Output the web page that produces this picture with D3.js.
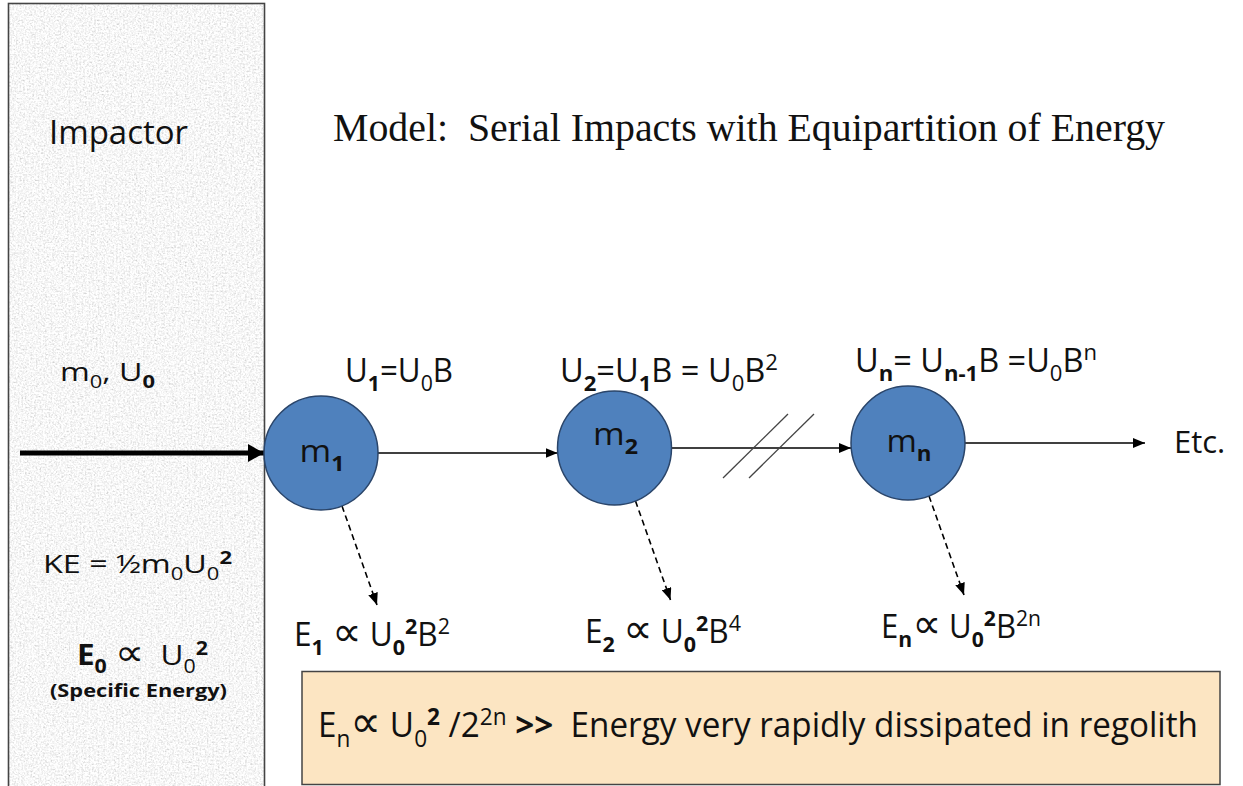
<!DOCTYPE html>
<html>
<head>
<meta charset="utf-8">
<script src="https://cdn.jsdelivr.net/npm/d3@7"></script>
<style>
  body { margin: 0; background: #fff; }
  text { font-family: "Open Sans", sans-serif; fill: #111; white-space: pre; }
</style>
</head>
<body>
<div id="diagram"></div>
<script>
// Diagram area
var svgWidth = 1243;
var svgHeight = 786;

// Serial impacts: one entry per sphere
var impactIndex = [0, 1, 2];
var massLabels = [
  [["m", ""], ["1", "bsub"]],
  [["m", ""], ["2", "bsub"]],
  [["m", ""], ["n", "bsub"]]
];
var velocityLabels = [
  [["U", ""], ["1", "bsub"], ["=U", ""], ["0", "sub"], ["B", ""]],
  [["U", ""], ["2", "bsub"], ["=U", ""], ["1", "bsub"], ["B = U", ""], ["0", "sub"], ["B", ""], ["2", "sup"]],
  [["U", ""], ["n", "bsub"], ["= U", ""], ["n-1", "bsub"], ["B =U", ""], ["0", "sub"], ["B", ""], ["n", "sup"]]
];
var energyLabels = [
  [["E", ""], ["1", "bsub"], [" ", ""], ["\u221D", "prop"], [" U", ""], ["0", "bsub"], ["2", "bsup"], ["B", ""], ["2", "sup"]],
  [["E", ""], ["2", "bsub"], [" ", ""], ["\u221D", "prop"], [" U", ""], ["0", "bsub"], ["2", "bsup"], ["B", ""], ["4", "sup"]],
  [["E", ""], ["n", "bsub"], ["\u221D", "prop"], [" U", ""], ["0", "bsub"], ["2", "bsup"], ["B", ""], ["2n", "sup"]]
];

// Impactor texts
var impactorTitle = [["Impactor", ""]];
var impactorState = [["m", ""], ["0", "sub"], [", U", ""], ["0", "bsub"]];
var impactorKE = [["KE = \u00BDm", ""], ["0", "sub"], ["U", ""], ["0", "sub"], ["2", "bsup"]];
var impactorE0 = [["E", "b"], ["0", "bsub"], [" ", ""], ["\u221D", "prop"], ["  U", ""], ["0", "sub"], ["2", "bsup"]];
var impactorNote = [["(Specific Energy)", "b"]];

var titleText = "Model:  Serial Impacts with Equipartition of Energy";
var etcText = "Etc.";
var summaryText = [["E", ""], ["n", "sub"], ["\u221D", "prop"], [" U", ""], ["0", "sub"], ["2", "bsup"], [" /2", ""], ["2n", "sup"], [" >>", "b"], ["  Energy very rapidly dissipated in regolith", ""]];

// Layout
var radius = 57;
var x = d3.scaleLinear().domain([0, 2]).range([321, 908]);
var y = d3.scaleLinear().domain([0, 2]).range([453, 443]);
var velLayout = [{x: 345, y: 382, w: 108}, {x: 560, y: 382, w: 218}, {x: 855, y: 372, w: 242}];
var massLayout = [{dy: 9, w: 45}, {dy: -3, w: 45}, {dy: 9, w: 45}];
var energyLayout = [{x: 294, y: 646, w: 156}, {x: 585, y: 643, w: 156}, {x: 881, y: 638, w: 160}];

var svg = d3.select("#diagram")
  .append("svg")
  .attr("width", svgWidth)
  .attr("height", svgHeight);

var defs = svg.append("defs");

// speckled stone texture for the impactor
var filt = defs.append("filter").attr("id", "speckle")
  .attr("x", 0).attr("y", 0).attr("width", 1).attr("height", 1);
filt.append("feTurbulence").attr("type", "fractalNoise")
  .attr("baseFrequency", 0.55).attr("numOctaves", 3).attr("seed", 3).attr("result", "noise");
filt.append("feColorMatrix").attr("in", "noise").attr("type", "matrix")
  .attr("values", "0.33 0.33 0.33 0 0  0.33 0.33 0.33 0 0  0.33 0.33 0.33 0 0  0 0 0 0 1")
  .attr("result", "gray");
var ct = filt.append("feComponentTransfer").attr("in", "gray");
["feFuncR", "feFuncG", "feFuncB"].forEach(function(f) {
  ct.append(f).attr("type", "linear").attr("slope", 1.15).attr("intercept", 0.36);
});

function marker(id, w, h, color) {
  defs.append("marker").attr("id", id)
    .attr("markerUnits", "userSpaceOnUse")
    .attr("viewBox", `0 0 ${w} ${h}`)
    .attr("markerWidth", w).attr("markerHeight", h)
    .attr("refX", w).attr("refY", h / 2)
    .attr("orient", "auto")
    .append("path")
    .attr("d", `M0,0L${w},${h / 2}L0,${h}Z`)
    .attr("fill", color);
}
marker("bigHead", 16, 18, "#000");
marker("head", 12, 10, "#000");

// rich text with sub/superscripts
function rich(sel, px, py, size, segs, width, anchor) {
  var t = sel.append("text")
    .attr("x", px).attr("y", py)
    .attr("font-size", size)
    .attr("text-anchor", anchor || "start");
  var off = 0;
  segs.forEach(function(s) {
    var mode = s[1], target = 0, fs = size;
    if (mode.indexOf("sub") >= 0) { target = size * 0.28; fs = size * 0.68; }
    if (mode.indexOf("sup") >= 0) { target = -size * 0.36; fs = size * 0.68; }
    if (mode === "prop") fs = size * 1.3;
    var ts = t.append("tspan")
      .attr("dy", target - off)
      .attr("font-size", fs)
      .attr("font-weight", mode.charAt(0) === "b" ? 700 : 400)
      .text(s[0]);
    if (mode === "prop") ts.style("font-family", "'DejaVu Sans', sans-serif");
    off = target;
  });
  if (width) t.attr("textLength", width).attr("lengthAdjust", "spacingAndGlyphs");
  return t;
}

// Impactor block
svg.append("rect")
  .attr("x", 8.5).attr("y", 3.5).attr("width", 256).attr("height", 800)
  .attr("fill", "#ececec").attr("filter", "url(#speckle)");
svg.append("rect")
  .attr("x", 8.5).attr("y", 3.5).attr("width", 256).attr("height", 800)
  .attr("fill", "none").attr("stroke", "#444").attr("stroke-width", 1.6);

rich(svg, 49, 144, 33, impactorTitle, 139);
rich(svg, 60, 381, 26, impactorState, 95);
rich(svg, 43, 573, 26, impactorKE, 189);
rich(svg, 77, 665, 28, impactorE0, 131);
rich(svg, 50, 697, 18, impactorNote, 177);

// impact arrow
svg.append("line")
  .attr("x1", 20).attr("y1", y(0)).attr("x2", x(0) - radius).attr("y2", y(0))
  .attr("stroke", "#000").attr("stroke-width", 5)
  .attr("marker-end", "url(#bigHead)");

// title
svg.append("text")
  .attr("x", 333).attr("y", 141)
  .attr("font-size", 40)
  .style("font-family", "'Liberation Serif', serif")
  .attr("textLength", 832).attr("lengthAdjust", "spacingAndGlyphs")
  .text(titleText);

// horizontal arrows between spheres
var links = svg.append("g");
impactIndex.forEach(function(i) {
  var x2 = i < 2 ? x(i + 1) - radius : 1145;
  links.append("line")
    .attr("x1", x(i) + radius).attr("y1", y(i))
    .attr("x2", x2).attr("y2", y(i))
    .attr("stroke", "#000").attr("stroke-width", 1.6)
    .attr("marker-end", "url(#head)");
});

// break marks on second link
[0, 26].forEach(function(d) {
  svg.append("line")
    .attr("x1", 723 + d).attr("y1", 478).attr("x2", 788 + d).attr("y2", 414)
    .attr("stroke", "#444").attr("stroke-width", 1.3);
});

// dashed energy-loss arrows
impactIndex.forEach(function(i) {
  svg.append("line")
    .attr("x1", x(i) + 21).attr("y1", y(i) + 53)
    .attr("x2", x(i) + 56).attr("y2", y(i) + 152)
    .attr("stroke", "#000").attr("stroke-width", 1.6)
    .attr("stroke-dasharray", "6,4")
    .attr("marker-end", "url(#head)");
});

// spheres
svg.selectAll("circle.mass")
  .data(impactIndex)
  .enter()
  .append("circle")
  .attr("class", "mass")
  .attr("cx", d => x(d))
  .attr("cy", d => y(d))
  .attr("r", radius)
  .attr("fill", "#4f81bd")
  .attr("stroke", "#2a456a")
  .attr("stroke-width", 1.5);

impactIndex.forEach(function(i) {
  rich(svg, x(i) + 1, y(i) + massLayout[i].dy, 31, massLabels[i], massLayout[i].w, "middle");
  rich(svg, velLayout[i].x, velLayout[i].y, 32, velocityLabels[i], velLayout[i].w);
  rich(svg, energyLayout[i].x, energyLayout[i].y, 32, energyLabels[i], energyLayout[i].w);
});

svg.append("text")
  .attr("x", 1174).attr("y", 453)
  .attr("font-size", 31)
  .text(etcText);

// summary box
svg.append("rect")
  .attr("x", 302).attr("y", 671.5).attr("width", 918).attr("height", 113)
  .attr("fill", "#fce5c2").attr("stroke", "#444").attr("stroke-width", 1.5);
rich(svg, 318, 737, 34, summaryText, 880);
</script>
</body>
</html>
